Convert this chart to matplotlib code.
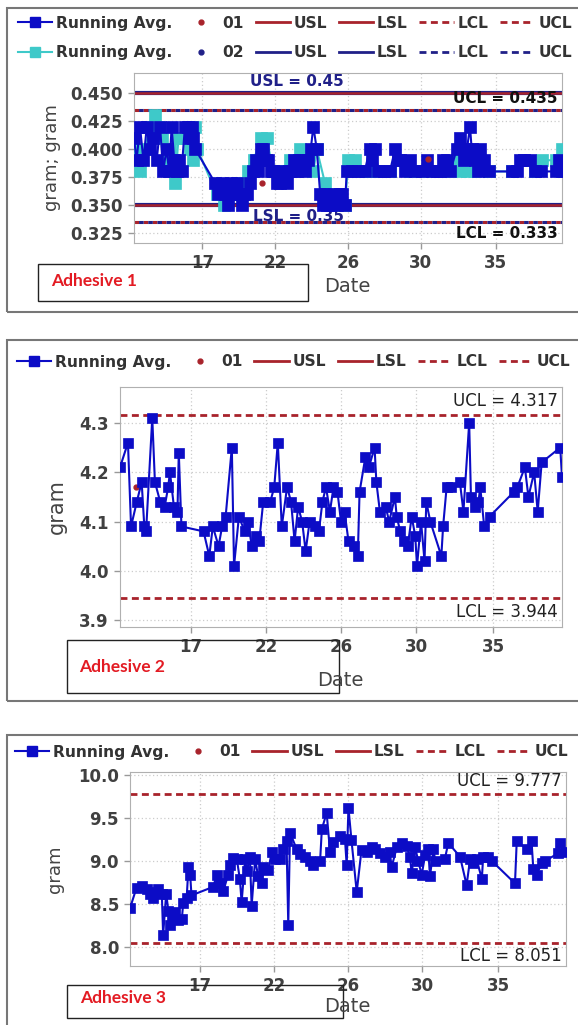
import matplotlib.pyplot as plt
from matplotlib.lines import Line2D
from matplotlib.patches import Rectangle

# --- data (x = sample position along the date axis, 0..100) ---
tick_pos = [16, 33, 50, 67, 84.5]
tick_lbl = ['17', '22', '26', '30', '35']

# Adhesive 1, series 01 (blue) and 02 (cyan) running averages
a1_x = [0, 0.6, 1.4, 2.2, 3.0, 3.7, 4.5, 5.3, 6.1, 6.8, 7.6, 8.2, 8.8, 9.4, 10.0, 10.6, 11.1,
        11.9, 12.5, 13.1, 13.6, 13.9, 14.3, 18.9, 19.7, 20.5, 21.3, 22.0, 22.6, 23.2, 24.0,
        24.6, 25.2, 25.8, 26.3, 27.1, 27.9, 28.5, 29.0, 29.6, 30.2, 30.8, 31.4, 32.0, 32.5,
        33.3, 34.1, 34.9, 35.7, 36.2, 36.8, 37.4, 38.0, 38.6, 39.2, 40.0, 40.7, 41.3, 41.9,
        42.7, 43.5, 44.1, 44.6, 45.2, 45.8, 46.6, 47.4, 48.1, 48.5, 49.3, 49.7, 50.9, 52.4,
        53.9, 55.1, 55.7, 56.3, 57.1, 58.3, 59.8, 61.0, 61.6, 62.2, 63.3, 64.5, 65.7, 67.3,
        68.4, 69.6, 70.8, 71.5, 72.3, 73.1, 73.9, 75.4, 76.2, 77.0, 77.8, 78.5, 78.9, 79.7,
        80.3, 80.9, 81.7, 82.9, 88.3, 89.5, 90.3, 91.1, 92.6, 93.8, 95.0, 98.6, 99.4, 100]
a1_y = [0.41, 0.39, 0.42, 0.39, 0.42, 0.40, 0.41, 0.39, 0.42, 0.38, 0.40, 0.38, 0.42, 0.39,
        0.38, 0.39, 0.38, 0.42, 0.42, 0.41, 0.42, 0.41, 0.40, 0.37, 0.36, 0.37, 0.36, 0.35,
        0.37, 0.36, 0.37, 0.36, 0.35, 0.36, 0.36, 0.37, 0.38, 0.39, 0.38, 0.40, 0.40, 0.39,
        0.39, 0.38, 0.38, 0.37, 0.37, 0.38, 0.37, 0.38, 0.38, 0.39, 0.38, 0.39, 0.39, 0.38,
        0.39, 0.40, 0.42, 0.40, 0.36, 0.35, 0.36, 0.35, 0.35, 0.36, 0.35, 0.36, 0.36, 0.35,
        0.38, 0.38, 0.38, 0.38, 0.40, 0.39, 0.40, 0.38, 0.38, 0.38, 0.40, 0.39, 0.39, 0.38,
        0.39, 0.38, 0.38, 0.39, 0.38, 0.38, 0.38, 0.39, 0.39, 0.38, 0.40, 0.41, 0.39, 0.40,
        0.42, 0.40, 0.39, 0.38, 0.40, 0.39, 0.38, 0.38, 0.38, 0.39, 0.39, 0.39, 0.38, 0.38,
        0.38, 0.39, 0.38]
a1b_x = [0, 1.4, 2.6, 3.7, 4.9, 5.7, 6.5, 7.6, 8.4, 9.6, 10.4, 11.9, 13.1, 13.9, 14.3, 14.8,
         19.3, 21.0, 22.6, 24.0, 24.8, 25.8, 26.7, 28.0, 29.6, 31.0, 32.5, 34.1, 35.4, 36.5,
         38.0, 38.8, 40.7, 41.9, 42.7, 44.6, 45.8, 47.4, 49.3, 50.1, 51.6, 53.9, 55.1, 57.1,
         59.8, 61.6, 64.5, 67.3, 70.0, 73.1, 75.4, 76.2, 77.8, 79.7, 80.9, 82.9, 88.3, 91.1,
         93.8, 95.3, 98.6, 100]
a1b_y = [0.40, 0.38, 0.40, 0.42, 0.43, 0.42, 0.41, 0.39, 0.40, 0.37, 0.41, 0.41, 0.40, 0.39,
         0.42, 0.40, 0.36, 0.35, 0.36, 0.36, 0.37, 0.36, 0.38, 0.39, 0.41, 0.41, 0.38, 0.38,
         0.38, 0.39, 0.39, 0.40, 0.39, 0.38, 0.40, 0.37, 0.36, 0.35, 0.35, 0.39, 0.39, 0.38,
         0.38, 0.38, 0.38, 0.39, 0.38, 0.38, 0.38, 0.38, 0.39, 0.38, 0.38, 0.38, 0.39, 0.38,
         0.38, 0.39, 0.38, 0.39, 0.39, 0.40]
a1_obs_x = [29.9, 68.7]
a1_obs_y = [0.37, 0.391]
a1_usl, a1_lsl, a1_ucl, a1_lcl = 0.45, 0.35, 0.435, 0.335

# Adhesive 2
a2_x = [0, 1.8, 2.5, 3.8, 4.9, 5.5, 5.9, 7.3, 7.9, 9.1, 10.1, 10.9, 11.3, 12.2, 13.0, 13.3,
        13.9, 18.9, 20.2, 21.0, 22.3, 23.1, 23.9, 25.3, 25.8, 26.9, 28.2, 29.0, 29.8, 30.7,
        31.5, 32.4, 34.0, 34.9, 35.7, 36.6, 37.8, 38.7, 39.5, 40.3, 41.2, 42.0, 42.9, 44.1,
        45.0, 45.8, 46.6, 47.5, 48.3, 49.2, 50.0, 50.8, 51.7, 52.9, 53.8, 54.2, 55.5, 56.3,
        57.6, 58.0, 58.8, 60.1, 60.9, 62.2, 62.6, 63.4, 64.3, 65.1, 66.0, 66.8, 67.2, 68.1,
        68.9, 69.3, 70.2, 72.7, 73.1, 73.9, 74.8, 76.9, 77.7, 79.0, 79.4, 80.3, 81.1, 81.5,
        82.4, 83.6, 89.1, 89.9, 91.6, 92.4, 93.7, 94.5, 95.4, 99.6, 100]
a2_y = [4.21, 4.26, 4.09, 4.14, 4.18, 4.09, 4.08, 4.31, 4.18, 4.14, 4.13, 4.17, 4.20, 4.13,
        4.12, 4.24, 4.09, 4.08, 4.03, 4.09, 4.05, 4.09, 4.11, 4.25, 4.01, 4.11, 4.08, 4.10,
        4.05, 4.07, 4.06, 4.14, 4.14, 4.17, 4.26, 4.09, 4.17, 4.14, 4.06, 4.13, 4.10, 4.04,
        4.10, 4.09, 4.08, 4.14, 4.17, 4.12, 4.17, 4.16, 4.10, 4.12, 4.06, 4.05, 4.03, 4.16,
        4.23, 4.21, 4.25, 4.18, 4.12, 4.13, 4.10, 4.15, 4.11, 4.08, 4.06, 4.05, 4.11, 4.07,
        4.01, 4.10, 4.02, 4.14, 4.10, 4.03, 4.09, 4.17, 4.17, 4.18, 4.12, 4.30, 4.15, 4.13,
        4.14, 4.17, 4.09, 4.11, 4.16, 4.17, 4.21, 4.15, 4.20, 4.12, 4.22, 4.25, 4.19]
a2_obs_x = [3.7]
a2_obs_y = [4.17]
a2_ucl, a2_lcl = 4.317, 3.944

# Adhesive 3
a3_x = [0, 1.5, 2.7, 3.8, 4.6, 5.2, 5.7, 6.5, 7.3, 7.6, 8.3, 8.8, 9.2, 9.6, 10.3, 11.1, 11.9,
        12.2, 13.0, 13.4, 13.8, 14.1, 19.1, 19.9, 20.6, 21.4, 22.5, 22.9, 23.7, 24.5, 25.2,
        25.6, 26.4, 26.8, 27.5, 27.9, 28.7, 29.4, 30.2, 30.6, 31.7, 32.5, 33.3, 34.4, 35.2,
        35.9, 36.3, 36.7, 38.2, 39.0, 40.1, 41.3, 42.0, 43.6, 44.0, 45.1, 45.9, 46.6, 48.2,
        49.3, 49.7, 50.1, 50.8, 52.0, 53.1, 54.3, 55.4, 56.2, 57.3, 58.5, 59.6, 60.0, 61.2,
        62.3, 63.5, 64.2, 64.6, 65.4, 66.1, 66.9, 67.7, 68.4, 68.8, 69.6, 70.0, 72.2, 73.0,
        75.7, 77.2, 78.0, 78.7, 79.5, 80.7, 81.0, 82.2, 83.0, 88.3, 88.7, 91.0, 92.1, 92.5,
        93.3, 94.4, 95.2, 98.2, 98.6, 100]
a3_y = [8.45, 8.69, 8.71, 8.67, 8.62, 8.57, 8.64, 8.67, 8.62, 8.14, 8.62, 8.42, 8.25, 8.35,
        8.41, 8.31, 8.33, 8.51, 8.57, 8.93, 8.84, 8.60, 8.70, 8.84, 8.74, 8.65, 8.84, 8.95,
        9.03, 9.02, 8.79, 8.52, 9.02, 8.88, 9.05, 8.48, 9.02, 8.82, 8.74, 8.93, 8.89, 9.10,
        9.02, 9.02, 9.14, 9.23, 8.26, 9.33, 9.14, 9.08, 9.05, 9.00, 8.95, 9.00, 9.37, 9.56,
        9.10, 9.22, 9.29, 9.26, 8.95, 9.62, 9.24, 8.64, 9.13, 9.11, 9.16, 9.14, 9.09, 9.05,
        9.10, 8.93, 9.16, 9.21, 9.17, 9.05, 8.86, 9.16, 9.00, 8.84, 9.07, 9.14, 8.82, 9.14,
        9.00, 9.02, 9.21, 9.05, 8.72, 9.02, 8.98, 9.02, 8.79, 9.05, 9.05, 9.00, 8.74, 9.23,
        9.14, 9.23, 8.91, 8.84, 8.98, 9.00, 9.09, 9.21, 9.10]
a3_ucl, a3_lcl = 9.777, 8.051

# --- styling ---
BLUE = '#0c0cc6'
CYAN = '#3ec9c9'
RED = '#a8232b'
NAVY = '#202088'
TXT = '#404040'
DASH = (0, (2.5, 1.6))

W, H = 578, 1025
fig = plt.figure(figsize=(W / 100, H / 100), dpi=100)


def fx(x):
    return x / W


def fy(y):
    return 1 - y / H


def add_axes(l, t, r, b):
    return fig.add_axes([fx(l), fy(b), (r - l) / W, (b - t) / H])


def frame(l, t, r, b, **kw):
    fig.add_artist(Rectangle((fx(l), fy(b)), (r - l) / W, (b - t) / H,
                             transform=fig.transFigure, fill=False, **kw))


def style(ax, ylim, yticks, fmt):
    ax.set_xlim(0, 100)
    ax.set_ylim(*ylim)
    ax.set_xticks(tick_pos, tick_lbl)
    ax.set_yticks(yticks, [fmt.format(v) for v in yticks])
    ax.grid(True, color='#cccccc', ls=(0, (1, 2)), lw=0.9)
    ax.set_axisbelow(True)
    for s in ax.spines.values():
        s.set_color('#b0b0b0')
    ax.tick_params(length=4, width=1, color='#999999', labelcolor=TXT,
                   labelsize=12, pad=4)
    for lab in ax.get_xticklabels() + ax.get_yticklabels():
        lab.set_fontweight('bold')


def note(ax, s, y, above, xfrac=1.0, ha='right', **kw):
    off = 3 if above else -3
    ax.annotate(s, xy=(xfrac, y), xycoords=('axes fraction', 'data'),
                xytext=(-3 if ha == 'right' else 0, off), textcoords='offset points',
                ha=ha, va='bottom' if above else 'top', **kw)


def legend_row(handles, labels, x, y):
    fig.legend(handles, labels, loc='center left', bbox_to_anchor=(fx(x), fy(y)),
               ncol=6, frameon=False, handlelength=2.2, handletextpad=0.25,
               columnspacing=0.75, borderpad=0, borderaxespad=0, labelspacing=0.95,
               prop=dict(weight='bold', size=11.2), labelcolor='#333333')


def adhesive(l, t, r, b, tx, ty, s):
    frame(l, t, r, b, ec='#222222', lw=1)
    fig.text(fx(tx), fy(ty), s, color='#e31b23', fontsize=12.5, fontweight='bold',
             family='Lato', ha='left', va='center')


def ra_handle(c, ms):
    return Line2D([], [], color=c, marker='s', ms=ms, lw=1.5)


def dot_handle(c):
    return Line2D([], [], color=c, marker='o', ms=3.5, ls='none')


def lim_handle(c, ls):
    return Line2D([], [], color=c, lw=2, ls=ls)


# ---------------- panel 1 ----------------
frame(7, 8, 590, 312, ec='#777777', lw=1.5)
ax1 = add_axes(134, 73, 562, 243)
style(ax1, (0.3161, 0.4679), [0.325, 0.35, 0.375, 0.40, 0.425, 0.45], '{:.3f}')
for v in (a1_usl, a1_lsl):
    ax1.axhline(v, color=NAVY, lw=3, zorder=2)
    ax1.axhline(v, color=RED, lw=1.8, zorder=2)
for v in (a1_ucl, a1_lcl):
    ax1.axhline(v, color=RED, lw=2.2, ls=(0, (1.5, 1.5)), zorder=2)
    ax1.axhline(v, color=NAVY, lw=2.2, ls=(1.5, (1.5, 1.5)), zorder=2)
ax1.plot(a1b_x, a1b_y, color=CYAN, marker='s', ms=8.3, mew=0.5, lw=1.5, zorder=3)
ax1.plot(a1_x, a1_y, color=BLUE, marker='s', ms=8.3, mew=0.5, lw=1.5, zorder=4)
ax1.plot(a1_obs_x, a1_obs_y, 'o', color=RED, ms=3.5, zorder=5)
note(ax1, 'USL = 0.45', a1_usl, True, xfrac=0.38, ha='center', color=NAVY,
     fontsize=11, fontweight='bold')
note(ax1, 'LSL = 0.35', a1_lsl, False, xfrac=0.385, ha='center', color=NAVY,
     fontsize=11, fontweight='bold')
note(ax1, 'UCL = 0.435', a1_ucl, True, color='#111111', fontsize=11, fontweight='bold')
note(ax1, 'LCL = 0.333', a1_lcl, False, color='#111111', fontsize=11, fontweight='bold')
fig.text(fx(52), fy(158), 'gram; gram', rotation=90, ha='center', va='center',
         fontsize=13, color='#444444')
fig.text(fx(347), fy(287), 'Date', ha='center', va='center', fontsize=14, color='#444444')
h1 = [ra_handle(BLUE, 7), ra_handle(CYAN, 7), dot_handle(RED), dot_handle(NAVY),
      lim_handle(RED, '-'), lim_handle(NAVY, '-'), lim_handle(RED, '-'), lim_handle(NAVY, '-'),
      lim_handle(RED, DASH), lim_handle(NAVY, DASH), lim_handle(RED, DASH), lim_handle(NAVY, DASH)]
l1 = ['Running Avg.', 'Running Avg.', '01', '02', 'USL', 'USL', 'LSL', 'LSL',
      'LCL', 'LCL', 'UCL', 'UCL']
legend_row(h1, l1, 18, 38)
adhesive(38, 264, 308, 301, 51, 281, 'Adhesive 1')

# ---------------- panel 2 ----------------
frame(7, 340, 590, 701, ec='#777777', lw=1.5)
ax2 = add_axes(120, 387, 562, 627)
style(ax2, (3.886, 4.373), [3.9, 4.0, 4.1, 4.2, 4.3], '{:.1f}')
for v in (a2_ucl, a2_lcl):
    ax2.axhline(v, color=RED, lw=2, ls=DASH, zorder=2)
ax2.plot(a2_x, a2_y, color=BLUE, marker='s', ms=7.6, mew=0.5, lw=1.5, zorder=4)
ax2.plot(a2_obs_x, a2_obs_y, 'o', color=RED, ms=3.5, zorder=3)
note(ax2, 'UCL = 4.317', a2_ucl, True, color='#222222', fontsize=12)
note(ax2, 'LCL = 3.944', a2_lcl, False, color='#222222', fontsize=12)
fig.text(fx(57), fy(507), 'gram', rotation=90, ha='center', va='center',
         fontsize=15, color='#444444')
fig.text(fx(340), fy(680), 'Date', ha='center', va='center', fontsize=14, color='#444444')
h2 = [ra_handle(BLUE, 7), dot_handle(RED), lim_handle(RED, '-'), lim_handle(RED, '-'),
      lim_handle(RED, DASH), lim_handle(RED, DASH)]
l2 = ['Running Avg.', '01', 'USL', 'LSL', 'LCL', 'UCL']
legend_row(h2, l2, 17, 362)
adhesive(67, 640, 339, 693, 79, 667, 'Adhesive 2')

# ---------------- panel 3 ----------------
frame(7, 735, 590, 1035, ec='#777777', lw=1.5)
ax3 = add_axes(130, 772, 566, 966)
style(ax3, (7.779, 10.035), [8.0, 8.5, 9.0, 9.5, 10.0], '{:.1f}')
for v in (a3_ucl, a3_lcl):
    ax3.axhline(v, color=RED, lw=2, ls=DASH, zorder=2)
ax3.plot(a3_x, a3_y, color=BLUE, marker='s', ms=7.2, mew=0.5, lw=1.5, zorder=4)
note(ax3, 'UCL = 9.777', a3_ucl, True, color='#222222', fontsize=12)
note(ax3, 'LCL = 8.051', a3_lcl, False, color='#222222', fontsize=12)
fig.text(fx(55), fy(869), 'gram', rotation=90, ha='center', va='center',
         fontsize=13, color='#444444')
fig.text(fx(347), fy(1007), 'Date', ha='center', va='center', fontsize=14, color='#444444')
legend_row(h2, l2, 15, 752)
adhesive(67, 985, 343, 1018, 80, 998, 'Adhesive 3')

fig.savefig('out.png', dpi=100, facecolor='white')
